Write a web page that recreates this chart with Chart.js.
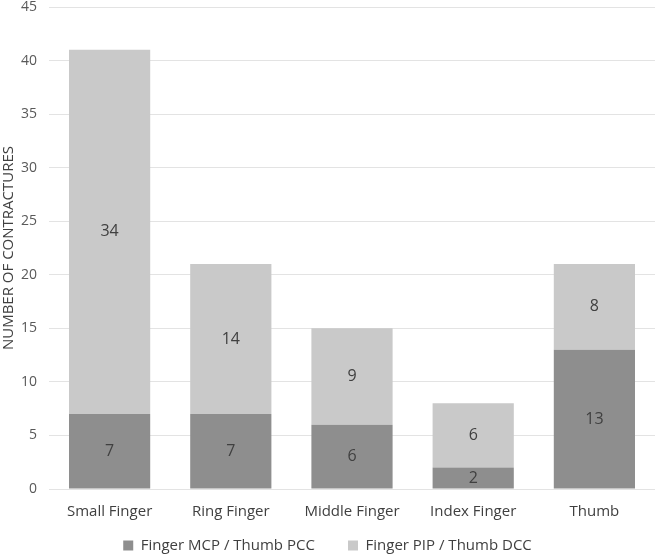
<!DOCTYPE html>
<html>
<head>
<meta charset="utf-8">
<script src="https://cdn.jsdelivr.net/npm/chart.js@4"></script>
<style>
  html, body { margin: 0; padding: 0; background: #fff; }
  #wrap { width: 657px; height: 556px; }
</style>
</head>
<body>
<div id="wrap"><canvas id="myChart" width="657" height="556"></canvas></div>
<script>
const categories = ['Small Finger', 'Ring Finger', 'Middle Finger', 'Index Finger', 'Thumb']
const mcpValues = [7, 7, 6, 2, 13]
const pipValues = [34, 14, 9, 6, 8]
const yTicks = [0, 5, 10, 15, 20, 25, 30, 35, 40, 45]

const fontFamily = "'Open Sans', 'Liberation Sans', sans-serif"
const legendGap = '        '

// draws the number in the middle of each bar segment
const barLabels = {
    id: 'barLabels',
    afterDatasetsDraw(chart) {
        const ctx = chart.ctx
        ctx.save()
        ctx.fillStyle = '#404040'
        ctx.font = '16px ' + fontFamily
        ctx.textAlign = 'center'
        ctx.textBaseline = 'middle'
        chart.data.datasets.forEach((ds, i) => {
            chart.getDatasetMeta(i).data.forEach((bar, j) => {
                const mid = (bar.y + bar.base) / 2
                ctx.fillText(ds.data[j], bar.x, mid)
            })
        })
        ctx.restore()
    }
}

const config = {
    type: 'bar',
    data: {
        labels: categories,
        datasets: [{
            label: 'Finger MCP / Thumb PCC',
            data: mcpValues,
            backgroundColor: '#8e8e8e',
            categoryPercentage: 1,
            barPercentage: 0.67
        }, {
            label: 'Finger PIP / Thumb DCC',
            data: pipValues,
            backgroundColor: '#c9c9c9',
            categoryPercentage: 1,
            barPercentage: 0.67
        }]
    },
    options: {
        responsive: false,
        animation: false,
        layout: { padding: { top: 0, right: 2, left: 0, bottom: -7 } },
        plugins: {
            tooltip: { enabled: false },
            legend: {
                position: 'bottom',
                labels: {
                    boxWidth: 10,
                    boxHeight: 10,
                    padding: 2,
                    color: '#404040',
                    font: { family: fontFamily, size: 15 },
                    generateLabels: chart => {
                        const items = Chart.defaults.plugins.legend.labels.generateLabels(chart)
                        // spacing between the two entries
                        items[0].text = items[0].text + legendGap
                        return items
                    }
                }
            }
        },
        scales: {
            x: {
                stacked: true,
                grid: { display: false },
                border: { display: false },
                ticks: { color: '#404040', font: { family: fontFamily, size: 15 }, padding: 6 },
                afterFit: s => { s.height = 47 }
            },
            y: {
                stacked: true,
                min: 0,
                max: 45,
                afterBuildTicks: axis => { axis.ticks = yTicks.map(v => ({ value: v })) },
                grid: { color: '#e3e3e3', drawTicks: false },
                border: { display: false },
                ticks: { color: '#595959', font: { family: fontFamily, size: 14 }, padding: 12 },
                title: {
                    display: true,
                    text: 'NUMBER OF CONTRACTURES',
                    color: '#404040',
                    font: { family: fontFamily, size: 15 },
                    padding: 0
                },
                afterFit: s => {
                    s.width = 49
                    s.paddingTop = 7
                    s.paddingBottom = 0
                }
            }
        }
    },
    plugins: [barLabels]
}

const myChart = new Chart(document.getElementById('myChart'), config)
</script>
</body>
</html>
